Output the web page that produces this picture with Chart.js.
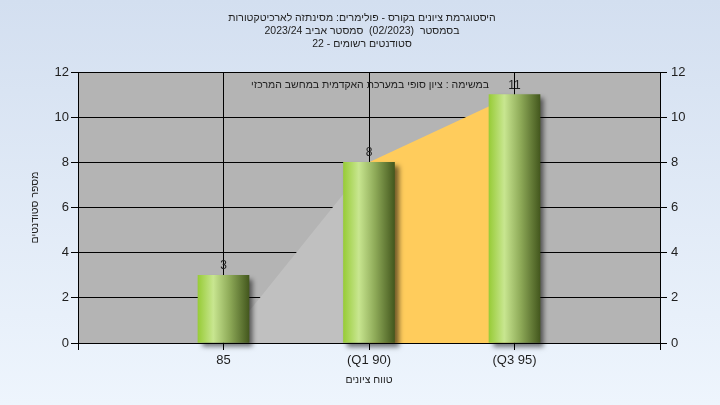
<!DOCTYPE html>
<html>
<head>
<meta charset="utf-8">
<script src="https://cdn.jsdelivr.net/npm/chart.js@4.4.1/dist/chart.umd.min.js"></script>
<style>
  html, body { margin: 0; padding: 0; background: #e4edf8; }
  canvas { display: block; }
</style>
</head>
<body>
<canvas id="chart" width="720" height="405" dir="rtl"></canvas>
<script>
// grade ranges (x categories) and number of students in each
const categories = ['85', '(Q1 90)', '(Q3 95)'];
const studentCounts = [3, 8, 11];
// shaded bands behind the bars: below Q1, then Q1 -> Q3
const belowQ1Band = [0, 8];
const q1ToQ3Band = [8, 11];
const yTicks = [0, 2, 4, 6, 8, 10, 12];

const titleLines = [
  'היסטוגרמת ציונים בקורס - פולימרים: מסינתזה לארכיטקטורות',
  'בסמסטר  (02/2023)  סמסטר אביב 2023/24',
  'סטודנטים רשומים - 22'
];
const noteText = 'במשימה : ציון סופי במערכת האקדמית במחשב המרכזי';
const xTitle = 'טווח ציונים';
const yTitle = 'מספר סטודנטים';

const FONT = '"Liberation Sans", Arial, sans-serif';
const TEXT = '#1e1e1e';
const HEB_FONT = '10.5px ' + FONT;

// bar gradient, left to right
function barFill(ctx) {
  const chart = ctx.chart;
  if (!chart.chartArea || ctx.dataIndex === undefined) return '#9ab860';
  const cx = chart.scales.x.getPixelForValue(ctx.dataIndex + 1);
  const g = chart.ctx.createLinearGradient(cx - 25.5, 0, cx + 25.5, 0);
  g.addColorStop(0, '#98cc38');
  g.addColorStop(0.3, '#c8e690');
  g.addColorStop(0.62, '#8eaa58');
  g.addColorStop(1, '#44581e');
  return g;
}

const bgPlugin = {
  id: 'bg',
  beforeDraw(chart) {
    const { ctx, width, height, chartArea: a } = chart;
    ctx.save();
    const g = ctx.createLinearGradient(0, 0, 0, height);
    g.addColorStop(0, '#d3dff0');
    g.addColorStop(1, '#eef5fd');
    ctx.fillStyle = g;
    ctx.fillRect(0, 0, width, height);
    ctx.fillStyle = '#b4b4b4';
    ctx.fillRect(a.left, a.top, a.right - a.left, a.bottom - a.top);
    ctx.restore();
  }
};

// drop shadow on the bars only
const shadowPlugin = {
  id: 'barShadow',
  beforeDatasetDraw(chart, args) {
    if (args.meta.type !== 'bar') return;
    const ctx = chart.ctx;
    ctx.save();
    ctx.shadowColor = 'rgba(0,0,0,0.55)';
    ctx.shadowBlur = 5;
    ctx.shadowOffsetX = 4;
    ctx.shadowOffsetY = 4;
  },
  afterDatasetDraw(chart, args) {
    if (args.meta.type !== 'bar') return;
    chart.ctx.restore();
  }
};

const textPlugin = {
  id: 'texts',
  afterDatasetsDraw(chart) {
    const { ctx, chartArea: a, scales } = chart;
    ctx.save();
    ctx.direction = 'rtl';
    ctx.fillStyle = TEXT;
    ctx.textAlign = 'center';
    ctx.textBaseline = 'middle';
    ctx.font = HEB_FONT;
    titleLines.forEach((t, i) => ctx.fillText(t, 362, 18 + i * 13));

    ctx.fillText(noteText, (a.left + a.right) / 2 + 1, 85);
    ctx.fillText(xTitle, (a.left + a.right) / 2, 380);

    ctx.save();
    ctx.translate(35, (a.top + a.bottom) / 2);
    ctx.rotate(-Math.PI / 2);
    ctx.fillText(yTitle, 0, 0);
    ctx.restore();

    // value labels above bars
    ctx.direction = 'ltr';
    ctx.textBaseline = 'alphabetic';
    ctx.font = '12px ' + FONT;
    studentCounts.forEach((v, i) => {
      const x = scales.x.getPixelForValue(i + 1);
      const y = scales.y.getPixelForValue(v);
      ctx.fillText(String(v), x, y - 6);
    });
    ctx.restore();
  }
};

const tickFont = { family: FONT, size: 13 };

new Chart(document.getElementById('chart'), {
  type: 'bar',
  data: {
    datasets: [
      {
        type: 'bar',
        data: studentCounts.map((v, i) => ({ x: i + 1, y: v })),
        backgroundColor: barFill,
        borderWidth: 0,
        barThickness: 51,
        clip: false,
        order: 1
      },
      {
        type: 'line',
        data: belowQ1Band.map((v, i) => ({ x: i + 1, y: v })),
        backgroundColor: '#c0c0c0',
        borderWidth: 0,
        pointRadius: 0,
        fill: 'origin',
        tension: 0,
        order: 2
      },
      {
        type: 'line',
        data: q1ToQ3Band.map((v, i) => ({ x: i + 2, y: v })),
        backgroundColor: '#ffcc5c',
        borderWidth: 0,
        pointRadius: 0,
        fill: 'origin',
        tension: 0,
        order: 2
      }
    ]
  },
  options: {
    responsive: false,
    animation: false,
    devicePixelRatio: 1,
    layout: { padding: { top: 72, left: 0, right: 0, bottom: 0 } },
    plugins: {
      legend: { display: false },
      tooltip: { enabled: false }
    },
    scales: {
      x: {
        type: 'linear',
        min: 0,
        max: categories.length + 1,
        offset: false,
        grid: { offset: false, color: '#000', tickLength: 7, tickColor: '#000' },
        border: { color: '#000' },
        ticks: {
          stepSize: 1,
          autoSkip: false,
          maxRotation: 0,
          padding: 3,
          color: TEXT,
          font: tickFont,
          callback: v => categories[v - 1] ?? ''
        },
        afterFit: s => { s.height = 62; }
      },
      y: {
        position: 'left',
        min: 0,
        max: 12,
        grid: { color: '#000', tickLength: 7, tickColor: '#000' },
        border: { color: '#000' },
        afterBuildTicks: s => { s.ticks = yTicks.map(v => ({ value: v })); },
        ticks: { padding: 2, color: TEXT, font: tickFont },
        afterFit: s => { s.width = 78; }
      },
      y2: {
        position: 'right',
        min: 0,
        max: 12,
        grid: { drawOnChartArea: false, tickLength: 7, tickColor: '#000' },
        border: { color: '#000' },
        afterBuildTicks: s => { s.ticks = yTicks.map(v => ({ value: v })); },
        ticks: { padding: 4, color: TEXT, font: tickFont },
        afterFit: s => { s.width = 60; }
      }
    }
  },
  plugins: [bgPlugin, shadowPlugin, textPlugin]
});
</script>
</body>
</html>
